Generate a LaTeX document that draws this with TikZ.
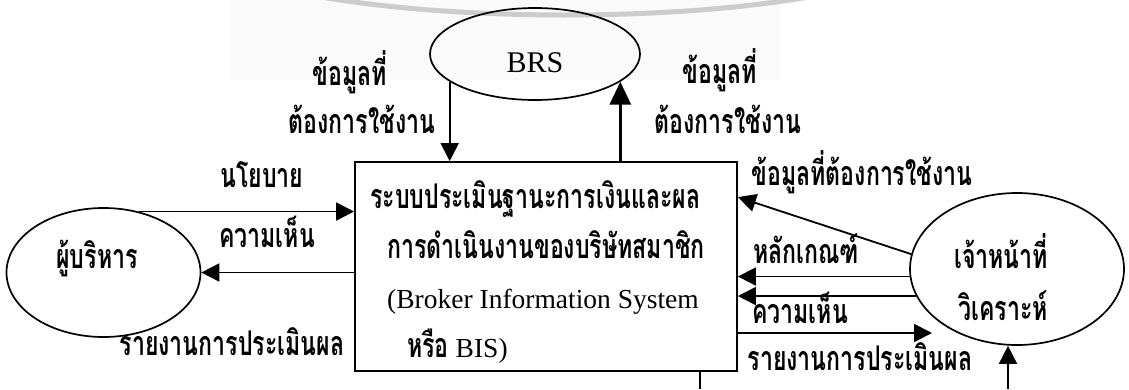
\documentclass[tikz,border=0pt]{standalone}
\usepackage{fontspec}
\setmainfont{Liberation Serif}
\newfontfamily\thaif[Script=Thai,FakeStretch=0.68]{Loma}
\newcommand\thfont{\thaif\bfseries\fontsize{34}{40}\selectfont}
\newcommand\ltfont{\fontsize{27.5}{32}\selectfont}
\usetikzlibrary{arrows.meta,shapes.geometric}
\begin{document}
\begin{tikzpicture}[x=1pt,y=-1pt,
  ln/.style={line width=1.8pt},
  arr/.style={ln,-{Triangle[length=18pt,width=18pt]}},
  thk/.style={line width=3.2pt,-{Triangle[length=23pt,width=21pt]}},
  oval/.style={ellipse,draw,line width=1.7pt,inner sep=0pt},
  th/.style={font=\thfont,anchor=base,inner sep=0pt},
  lat/.style={font=\ltfont,anchor=base,inner sep=0pt}]
\useasboundingbox (0,0) rectangle (1129,389);
\fill[white] (0,0) rectangle (1129,389);
% faint scan background
\begin{scope}
\clip (0,0) rectangle (1129,389);
\fill[black!2] (230,0) rectangle (780,80);
\draw[black!20,line width=5pt] (565,-60) ellipse [x radius=375, y radius=75];
\end{scope}
% nodes
\node[oval,minimum width=210pt,minimum height=92pt] (brs) at (535,54) {};
\node[lat,font=\fontsize{30}{34}\selectfont] (brsT) at (535,72) {BRS};
\node[oval,minimum width=194pt,minimum height=129pt] (mgr) at (103.5,272.5) {};
\node[th] (mgrT) at (97,268) {ผู้บริหาร};
\node[oval,minimum width=214pt,minimum height=152pt] (ana) at (1017,269) {};
\node[th] (anaT1) at (1001,268) {เจ้าหน้าที่};
\node[th] (anaT2) at (1003,320) {วิเคราะห์};
\node[draw,ln,minimum width=382pt,minimum height=209pt,inner sep=0pt] (box) at (546,266.5) {};
\node[th,anchor=base west] (b1) at (370,208) {ระบบประเมินฐานะการเงินและผล};
\node[th,anchor=base west] (b2) at (387,258) {การดำเนินงานของบริษัทสมาชิก};
\node[lat,anchor=base west] (b3) at (387,308) {(Broker Information System};
\node[anchor=base west,inner sep=0pt] (b4) at (407,357) {{\thfont หรือ}\hspace{7pt}{\ltfont BIS)}};
% labels
\node[th] (lL1) at (350,85) {ข้อมูลที่};
\node[th] (lL2) at (362,133) {ต้องการใช้งาน};
\node[th] (lR1) at (720,83) {ข้อมูลที่};
\node[th] (lR2) at (728,133) {ต้องการใช้งาน};
\node[th] (lPol) at (262,187) {นโยบาย};
\node[th] (lOpL) at (267,247) {ความเห็น};
\node[th] (lRepL) at (232,355) {รายงานการประเมินผล};
\node[th] (lData) at (862,185) {ข้อมูลที่ต้องการใช้งาน};
\node[th] (lCrit) at (806,263) {หลักเกณฑ์};
\node[th] (lOpR) at (800,323) {ความเห็น};
\node[th] (lRepR) at (860,370) {รายงานการประเมินผล};
% connectors
\draw[arr] (brs.198) -- (brs.198 |- box.north);
\draw[thk] (brs.342 |- box.north) -- (brs.342);
\draw[arr] (mgr.60) -- (mgr.60 -| box.west);
\draw[arr] (box.west |- mgr.east) -- (mgr.east);
\draw[arr] (ana.172) -- ([yshift=-36pt]box.north east);
\draw[arr] (ana.184) -- (ana.184 -| box.east);
\draw[arr] (ana.195) -- (ana.195 -| box.east);
\coordinate (rptEnd) at (932,333);
\draw[arr] (box.east |- rptEnd) -- (rptEnd);
\coordinate (bl) at (700,389);
\draw[ln] (box.south -| bl) -- (bl);
\coordinate (br) at (1008,389);
\draw[arr] (br) -- (br |- ana.south);
\end{tikzpicture}
\end{document}
